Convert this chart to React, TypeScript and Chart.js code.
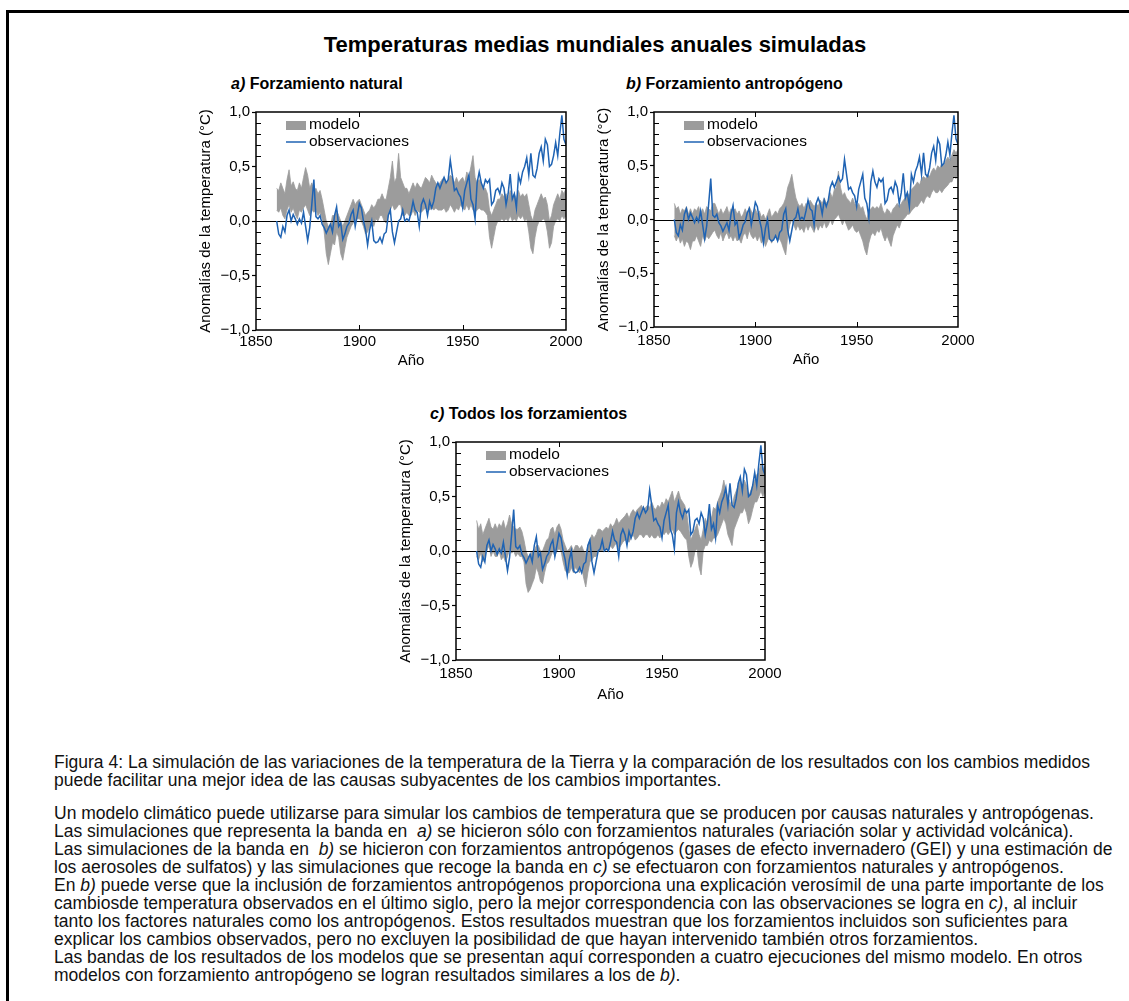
import React, { useEffect, useRef } from 'react';
import { Chart, registerables } from 'chart.js';

Chart.register(...registerables);

const FONT = "'Liberation Sans', Arial, Helvetica, sans-serif";
Chart.defaults.font.family = FONT;
Chart.defaults.color = '#000';

// ---- data (annual values, 1860–2000, °C anomalies) ----
const START_YEAR = 1860;

const OBSERVACIONES = [
  0.0, -0.12, -0.15, -0.05, -0.1, 0.05, 0.1, 0.0, 0.06, 0.02,
  -0.03, 0.02, -0.02, 0.08, -0.05, -0.18, -0.06, 0.15, 0.38, 0.04,
  0.02, 0.05, -0.03, -0.06, -0.11, -0.07, -0.03, -0.1, 0.05, 0.13,
  -0.05, -0.02, -0.17, -0.12, -0.05, -0.02, 0.06, 0.1, -0.05, 0.05,
  0.16, 0.12, 0.0, -0.08, -0.22, -0.08, 0.0, -0.18, -0.2, -0.19,
  -0.15, -0.2, -0.12, -0.1, 0.05, 0.1, -0.1, -0.2, -0.1, 0.0,
  0.02, 0.1, 0.0, 0.02, 0.0, 0.08, 0.18, 0.1, 0.08, -0.05,
  0.15, 0.2, 0.15, 0.05, 0.18, 0.12, 0.18, 0.3, 0.35, 0.3,
  0.35, 0.4, 0.35, 0.38, 0.56, 0.42, 0.28, 0.3, 0.25, 0.22,
  0.12, 0.28, 0.35, 0.42, 0.2, 0.15, 0.02, 0.35, 0.45, 0.35,
  0.3, 0.38, 0.35, 0.38, 0.15, 0.18, 0.28, 0.3, 0.25, 0.35,
  0.3, 0.15, 0.25, 0.43, 0.2, 0.25, 0.12, 0.42, 0.35, 0.45,
  0.5, 0.58, 0.42, 0.62, 0.42, 0.4, 0.48, 0.62, 0.68, 0.55,
  0.75, 0.7, 0.5, 0.52, 0.6, 0.72, 0.6, 0.8, 0.97, 0.75,
  0.7,
];

// a) natural forcing: model band
const NATURAL_MIN = [
  0.1, 0.08, 0.12, 0.05, 0.02, 0.1, 0.15, 0.08, 0.12, 0.06,
  0.02, 0.1, 0.08, 0.12, 0.15, 0.1, 0.05, 0.1, 0.08, 0.1,
  0.05, 0.08, 0.02, -0.1, -0.3, -0.4, -0.3, -0.2, -0.22, -0.1,
  -0.15, -0.3, -0.36, -0.25, -0.15, -0.1, -0.05, -0.02, 0.0, 0.02,
  0.02, 0.0, -0.05, -0.12, -0.1, -0.05, 0.0, -0.05, 0.02, 0.0,
  0.05, 0.05, 0.0, -0.02, 0.05, 0.1, 0.15, 0.1, 0.12, 0.15,
  0.15, 0.05, 0.05, 0.08, 0.05, 0.05, 0.1, 0.05, 0.1, 0.08,
  0.08, 0.1, 0.12, 0.1, 0.1, 0.12, 0.1, 0.12, 0.1, 0.1,
  0.1, 0.12, 0.08, 0.1, 0.15, 0.12, 0.08, 0.12, 0.1, 0.15,
  0.12, 0.1, 0.15, 0.1, 0.15, 0.1, 0.08, 0.1, 0.12, 0.1,
  0.1, 0.08, 0.05, -0.15, -0.25, -0.15, -0.05, 0.0, 0.0, 0.02,
  0.0, 0.02, 0.0, 0.05, 0.0, 0.02, 0.0, 0.05, 0.02, 0.05,
  0.0, 0.02, -0.1, -0.25, -0.3, -0.15, -0.05, 0.0, 0.0, 0.02,
  0.0, -0.1, -0.25, -0.2, -0.05, 0.0, 0.02, 0.0, 0.05, 0.02,
  0.05,
];
const NATURAL_MAX = [
  0.3, 0.28, 0.35, 0.3, 0.25, 0.38, 0.47, 0.32, 0.36, 0.3,
  0.28, 0.35, 0.3, 0.4, 0.49, 0.42, 0.3, 0.35, 0.28, 0.3,
  0.25, 0.28, 0.2, 0.1, 0.0, -0.05, -0.05, 0.05, 0.05, 0.1,
  0.05, 0.0, -0.05, 0.0, 0.05, 0.1, 0.15, 0.2, 0.15, 0.18,
  0.2, 0.15, 0.1, 0.05, 0.08, 0.1, 0.15, 0.12, 0.15, 0.2,
  0.2, 0.25, 0.2, 0.2, 0.3, 0.4, 0.55, 0.35, 0.4, 0.62,
  0.4, 0.35, 0.3, 0.3, 0.25, 0.3, 0.35, 0.3, 0.35, 0.32,
  0.3, 0.35, 0.4, 0.38, 0.35, 0.42, 0.38, 0.35, 0.32, 0.35,
  0.38, 0.4, 0.35, 0.38, 0.42, 0.4, 0.35, 0.4, 0.35, 0.38,
  0.4, 0.35, 0.45, 0.4, 0.5, 0.6, 0.4, 0.35, 0.38, 0.35,
  0.3, 0.3, 0.25, 0.1, 0.05, 0.1, 0.15, 0.2, 0.2, 0.25,
  0.22, 0.25, 0.2, 0.28, 0.22, 0.25, 0.2, 0.28, 0.22, 0.25,
  0.22, 0.25, 0.15, 0.05, 0.0, 0.1, 0.15, 0.2, 0.25, 0.2,
  0.22, 0.15, 0.0, 0.05, 0.15, 0.2, 0.25, 0.2, 0.28, 0.25,
  0.3,
];

// b) anthropogenic forcing: model band
const ANTROPOGENO_MIN = [
  -0.15, -0.2, -0.15, -0.22, -0.18, -0.25, -0.2, -0.22, -0.28, -0.2,
  -0.2, -0.15, -0.2, -0.25, -0.15, -0.2, -0.15, -0.18, -0.15, -0.12,
  -0.1, -0.15, -0.18, -0.12, -0.2, -0.15, -0.12, -0.18, -0.15, -0.2,
  -0.15, -0.2, -0.18, -0.22, -0.15, -0.12, -0.18, -0.1, -0.15, -0.18,
  -0.15, -0.2, -0.15, -0.22, -0.18, -0.25, -0.2, -0.15, -0.22, -0.18,
  -0.15, -0.2, -0.18, -0.22, -0.28, -0.33, -0.15, -0.05, 0.0, -0.05,
  -0.1, -0.05, -0.1, -0.08, -0.12, -0.05, -0.1, -0.05, -0.08, -0.12,
  -0.05, -0.1, -0.05, -0.08, -0.02, -0.08, -0.05, 0.0, -0.05, 0.0,
  0.02, 0.05, 0.0, -0.05, 0.0, -0.05, -0.1, -0.08, -0.05, -0.1,
  -0.12, -0.1, -0.15, -0.2, -0.28, -0.33, -0.22, -0.15, -0.12, -0.15,
  -0.1, -0.12, -0.08, -0.15, -0.2, -0.15, -0.2, -0.25, -0.15, -0.1,
  -0.05, -0.08, -0.02, 0.0, 0.02, 0.05, 0.05, 0.08, 0.1, 0.12,
  0.12, 0.15, 0.18, 0.15, 0.2, 0.22, 0.2, 0.25, 0.28, 0.25,
  0.25, 0.28, 0.25, 0.28, 0.3, 0.32, 0.35, 0.35, 0.4, 0.38,
  0.42,
];
const ANTROPOGENO_MAX = [
  0.15, 0.1, 0.12, 0.05, 0.1, 0.08, 0.12, 0.05, 0.1, 0.05,
  0.1, 0.08, 0.12, 0.05, 0.1, 0.05, 0.12, 0.1, 0.08, 0.15,
  0.15, 0.1, 0.05, 0.1, 0.05, 0.08, 0.12, 0.05, 0.1, 0.08,
  0.1, 0.05, 0.08, 0.02, 0.05, 0.1, 0.05, 0.12, 0.08, 0.05,
  0.1, 0.05, 0.08, 0.02, 0.05, 0.0, 0.05, 0.1, 0.02, 0.05,
  0.08, 0.05, 0.1, 0.12, 0.15, 0.2, 0.3, 0.35, 0.42, 0.3,
  0.2, 0.15, 0.12, 0.15, 0.1, 0.15, 0.12, 0.18, 0.15, 0.12,
  0.15, 0.12, 0.18, 0.15, 0.2, 0.15, 0.18, 0.25, 0.2, 0.28,
  0.3, 0.45, 0.3, 0.22, 0.25, 0.2, 0.18, 0.15, 0.2, 0.15,
  0.12, 0.15, 0.1, 0.12, 0.05, 0.0, 0.08, 0.1, 0.12, 0.1,
  0.12, 0.1, 0.15, 0.08, 0.05, 0.1, 0.08, 0.05, 0.1, 0.12,
  0.15, 0.12, 0.15, 0.18, 0.2, 0.25, 0.22, 0.28, 0.3, 0.32,
  0.35, 0.32, 0.38, 0.4, 0.38, 0.42, 0.4, 0.45, 0.48, 0.45,
  0.5, 0.48, 0.52, 0.5, 0.55, 0.58, 0.55, 0.6, 0.65, 0.62,
  0.65,
];

// c) all forcings: model band
const TODOS_MIN = [
  -0.05, -0.08, -0.02, -0.1, -0.05, 0.0, 0.05, -0.05, 0.0, -0.05,
  -0.05, 0.0, -0.08, -0.05, -0.1, -0.05, 0.02, -0.02, 0.0, -0.05,
  -0.02, -0.05, -0.05, -0.1, -0.3, -0.38, -0.35, -0.3, -0.25, -0.15,
  -0.2, -0.28, -0.3, -0.2, -0.12, -0.1, -0.05, 0.0, -0.05, 0.0,
  0.02, 0.0, -0.1, -0.18, -0.2, -0.2, -0.15, -0.2, -0.15, -0.18,
  -0.2, -0.15, -0.25, -0.33, -0.2, -0.1, -0.08, -0.05, -0.05, 0.0,
  0.0, 0.0, 0.02, 0.02, 0.0, 0.05, 0.02, 0.05, 0.08, 0.02,
  0.05, 0.08, 0.1, 0.1, 0.08, 0.12, 0.15, 0.1, 0.12, 0.15,
  0.15, 0.12, 0.15, 0.15, 0.12, 0.15, 0.12, 0.12, 0.15, 0.12,
  0.18, 0.15, 0.18, 0.15, 0.18, 0.2, 0.15, 0.18, 0.2, 0.18,
  0.15, 0.12, 0.1, -0.05, -0.15, -0.1, 0.0, 0.02, -0.15, -0.22,
  0.0, 0.05, 0.05, 0.1, 0.08, 0.12, 0.12, 0.15, 0.2, 0.25,
  0.3, 0.25, 0.15, 0.1, 0.05, 0.2, 0.25, 0.3, 0.35, 0.35,
  0.4, 0.35, 0.25, 0.3, 0.38, 0.45, 0.45, 0.5, 0.55, 0.5,
  0.55,
];
const TODOS_MAX = [
  0.28, 0.2, 0.25, 0.15, 0.2, 0.25, 0.3, 0.22, 0.2, 0.25,
  0.2, 0.25, 0.22, 0.28, 0.2, 0.25, 0.33, 0.25, 0.22, 0.2,
  0.2, 0.22, 0.18, 0.1, 0.0, -0.05, -0.05, 0.0, 0.0, 0.05,
  0.05, 0.0, 0.0, 0.05, 0.1, 0.12, 0.2, 0.22, 0.15, 0.22,
  0.25, 0.2, 0.1, 0.05, 0.0, 0.02, 0.05, 0.0, 0.05, 0.05,
  0.02, 0.05, 0.0, -0.02, 0.05, 0.1, 0.15, 0.12, 0.15, 0.2,
  0.2, 0.18, 0.2, 0.22, 0.2, 0.25, 0.22, 0.25, 0.3, 0.25,
  0.28, 0.3, 0.32, 0.35, 0.3, 0.35, 0.38, 0.35, 0.38, 0.4,
  0.42, 0.38, 0.4, 0.42, 0.4, 0.45, 0.4, 0.38, 0.42, 0.4,
  0.45, 0.42, 0.48, 0.45, 0.5, 0.55, 0.45, 0.5, 0.55, 0.48,
  0.45, 0.42, 0.35, 0.2, 0.1, 0.15, 0.2, 0.25, 0.15, 0.1,
  0.2, 0.3, 0.25, 0.35, 0.3, 0.4, 0.38, 0.45, 0.5, 0.55,
  0.65, 0.55, 0.5, 0.45, 0.4, 0.5, 0.55, 0.6, 0.65, 0.6,
  0.65, 0.6, 0.5, 0.55, 0.6, 0.65, 0.7, 0.72, 0.8, 0.75,
  0.78,
];

const X_TICKS = [1850, 1900, 1950, 2000];
const Y_TICKS = [-1, -0.5, 0, 0.5, 1];
const LEGEND_LABELS = ['modelo', 'observaciones'];
const X_TITLE = 'Año';
const Y_TITLE = 'Anomalías de la temperatura (°C)';

const YEARS = OBSERVACIONES.map((_, i) => START_YEAR + i);

// ---- styling ----
const BAND_COLOR = '#9c9c9c';
const LINE_COLOR = '#1f63b3';
const AXIS_W = 70;
const AXIS_H = 45;
const PAD_T = 12;
const PAD_R = 22;

type Box = { left: number; top: number; right: number; bottom: number };
type PanelSpec = {
  id: string;
  letter: string;
  heading: string;
  lower: number[];
  upper: number[];
  plot: Box;
  tickPad: number;
  titlePad: number;
  headX: number;
  headY: number;
};

const PANELS: PanelSpec[] = [
  { id: 'a', letter: 'a)', heading: 'Forzamiento natural', lower: NATURAL_MIN, upper: NATURAL_MAX,
    plot: { left: 256, top: 112, right: 566, bottom: 330 }, tickPad: 3, titlePad: 5, headX: 231, headY: 84 },
  { id: 'b', letter: 'b)', heading: 'Forzamiento antropógeno', lower: ANTROPOGENO_MIN, upper: ANTROPOGENO_MAX,
    plot: { left: 654, top: 112, right: 958, bottom: 327 }, tickPad: 5, titlePad: 3, headX: 626, headY: 84 },
  { id: 'c', letter: 'c)', heading: 'Todos los forzamientos', lower: TODOS_MIN, upper: TODOS_MAX,
    plot: { left: 456, top: 442, right: 765, bottom: 660 }, tickPad: 5, titlePad: 1, headX: 430, headY: 414 },
];

const fmtY = (v: number) => (v < 0 ? '\u2212' : '') + Math.abs(v).toFixed(1).replace('.', ',');

// frame, inner ticks, zero line and legend
const panelDecor = {
  id: 'panelDecor',
  afterDatasetDraw(chart: any, args: any) {
    if (args.index !== 1) return;
    const { ctx, chartArea: a, scales } = chart;
    const y0 = Math.round(scales.y.getPixelForValue(0)) + 0.5;
    ctx.save();
    ctx.strokeStyle = '#000';
    ctx.lineWidth = 1.2;
    ctx.beginPath();
    ctx.moveTo(a.left, y0);
    ctx.lineTo(a.right, y0);
    ctx.stroke();
    ctx.restore();
  },
  afterDraw(chart: any) {
    const { ctx, chartArea: a, scales } = chart;
    const { x, y } = scales;
    ctx.save();
    ctx.strokeStyle = '#000';
    ctx.lineWidth = 1;
    ctx.beginPath();
    for (let k = -9; k <= 9; k++) {
      const py = Math.round(y.getPixelForValue(k / 10)) + 0.5;
      if (k % 5 !== 0) {
        ctx.moveTo(a.left, py);
        ctx.lineTo(a.left + 5, py);
      }
      ctx.moveTo(a.right - 5, py);
      ctx.lineTo(a.right, py);
    }
    X_TICKS.slice(1, -1).forEach((yr) => {
      const px = Math.round(x.getPixelForValue(yr)) + 0.5;
      ctx.moveTo(px, a.bottom);
      ctx.lineTo(px, a.bottom - 5);
      ctx.moveTo(px, a.top);
      ctx.lineTo(px, a.top + 5);
    });
    ctx.stroke();
    ctx.lineWidth = 1.5;
    ctx.strokeRect(a.left, a.top, a.right - a.left, a.bottom - a.top);

    // legend
    const lx = a.left + 30;
    ctx.fillStyle = BAND_COLOR;
    ctx.fillRect(lx, a.top + 9, 20, 9);
    ctx.strokeStyle = LINE_COLOR;
    ctx.lineWidth = 1.5;
    ctx.beginPath();
    ctx.moveTo(lx, a.top + 30);
    ctx.lineTo(lx + 20, a.top + 30);
    ctx.stroke();
    ctx.fillStyle = '#000';
    ctx.font = `15.5px ${FONT}`;
    ctx.textBaseline = 'middle';
    ctx.textAlign = 'left';
    ctx.fillText(LEGEND_LABELS[0], lx + 23, a.top + 13);
    ctx.fillText(LEGEND_LABELS[1], lx + 23, a.top + 29.5);
    ctx.restore();
  },
};

function buildConfig(p: PanelSpec): any {
  const pts = (arr: number[]) => arr.map((v, i) => ({ x: YEARS[i], y: v }));
  return {
    type: 'line',
    data: {
      datasets: [
        { label: 'min', data: pts(p.lower), borderColor: BAND_COLOR, borderWidth: 0.8, backgroundColor: BAND_COLOR,
          pointRadius: 0, fill: false, tension: 0, order: 3 },
        { label: LEGEND_LABELS[0], data: pts(p.upper), borderColor: BAND_COLOR, borderWidth: 0.8, backgroundColor: BAND_COLOR,
          pointRadius: 0, fill: '-1', tension: 0, order: 2 },
        { label: LEGEND_LABELS[1], data: pts(OBSERVACIONES), borderColor: LINE_COLOR, borderWidth: 1.5,
          pointRadius: 0, fill: false, tension: 0, order: 1 },
      ],
    },
    options: {
      responsive: false,
      animation: false,
      events: [],
      layout: { padding: { top: PAD_T, right: PAD_R, bottom: 0, left: 0 } },
      plugins: { legend: { display: false }, tooltip: { enabled: false } },
      scales: {
        x: {
          type: 'linear',
          min: X_TICKS[0],
          max: X_TICKS[X_TICKS.length - 1],
          afterBuildTicks: (s: any) => { s.ticks = X_TICKS.map((v) => ({ value: v })); },
          afterFit: (s: any) => { s.height = AXIS_H; },
          ticks: { callback: (v: number) => String(v), padding: p.tickPad, maxRotation: 0, autoSkip: false,
            color: '#000', font: { size: 15, family: FONT } },
          grid: { display: false, drawTicks: false, tickLength: 0 },
          border: { display: false },
          title: { display: true, text: X_TITLE, color: '#000', font: { size: 15, family: FONT },
            padding: { top: 0, bottom: p.titlePad } },
        },
        y: {
          type: 'linear',
          min: Y_TICKS[0],
          max: Y_TICKS[Y_TICKS.length - 1],
          afterBuildTicks: (s: any) => { s.ticks = Y_TICKS.map((v) => ({ value: v })); },
          afterFit: (s: any) => { s.width = AXIS_W; },
          ticks: { callback: (v: number) => fmtY(v), padding: 2, color: '#000', font: { size: 15, family: FONT } },
          grid: { drawOnChartArea: false, drawTicks: true, tickLength: 4, tickColor: '#000', tickWidth: 1.2 },
          border: { display: false },
          title: { display: true, text: Y_TITLE, color: '#000', font: { size: 15, family: FONT },
            padding: { top: 11, bottom: 0 } },
        },
      },
    },
    plugins: [panelDecor],
  };
}

function Panel({ p }: { p: PanelSpec }) {
  const ref = useRef<HTMLCanvasElement>(null);
  useEffect(() => {
    const chart = new Chart(ref.current as HTMLCanvasElement, buildConfig(p));
    return () => chart.destroy();
  }, [p]);
  const w = p.plot.right - p.plot.left + AXIS_W + PAD_R;
  const h = p.plot.bottom - p.plot.top + PAD_T + AXIS_H;
  return (
    <>
      <div style={{ position: 'absolute', left: p.headX, top: p.headY - 10, lineHeight: '20px',
        fontSize: 16, fontWeight: 'bold', whiteSpace: 'pre' }}>
        <i>{p.letter}</i>{' ' + p.heading}
      </div>
      <canvas ref={ref} width={w} height={h}
        style={{ position: 'absolute', left: p.plot.left - AXIS_W, top: p.plot.top - PAD_T, width: w, height: h }} />
    </>
  );
}

const lineStyle = (top: number): React.CSSProperties => ({
  position: 'absolute', left: 54, top, lineHeight: '18px', fontSize: 17.5, whiteSpace: 'pre', color: '#111',
});

export default function App() {
  return (
    <div style={{ position: 'absolute', left: 0, top: 0, width: 1129, height: 1001, overflow: 'hidden',
      background: '#fff', fontFamily: FONT, color: '#000' }}>
      <div style={{ position: 'absolute', left: 6, top: 10, width: 1200, height: 1100,
        borderTop: '3px solid #000', borderLeft: '3px solid #000' }} />
      <div style={{ position: 'absolute', left: 0, top: 32, width: 1190, textAlign: 'center',
        fontSize: 22, fontWeight: 'bold', lineHeight: '26px' }}>
        Temperaturas medias mundiales anuales simuladas
      </div>
      {PANELS.map((p) => <Panel key={p.id} p={p} />)}

      <div style={lineStyle(753)}>Figura 4: La simulación de las variaciones de la temperatura de la Tierra y la comparación de los resultados con los cambios medidos</div>
      <div style={lineStyle(771)}>puede facilitar una mejor idea de las causas subyacentes de los cambios importantes.</div>

      <div style={lineStyle(804)}>Un modelo climático puede utilizarse para simular los cambios de temperatura que se producen por causas naturales y antropógenas.</div>
      <div style={lineStyle(822)}>Las simulaciones que representa la banda en  <i>a)</i> se hicieron sólo con forzamientos naturales (variación solar y actividad volcánica).</div>
      <div style={lineStyle(840)}>Las simulaciones de la banda en  <i>b)</i> se hicieron con forzamientos antropógenos (gases de efecto invernadero (GEI) y una estimación de</div>
      <div style={lineStyle(858)}>los aerosoles de sulfatos) y las simulaciones que recoge la banda en <i>c)</i> se efectuaron con forzamientos naturales y antropógenos.</div>
      <div style={lineStyle(876)}>En <i>b)</i> puede verse que la inclusión de forzamientos antropógenos proporciona una explicación verosímil de una parte importante de los</div>
      <div style={lineStyle(894)}>cambiosde temperatura observados en el último siglo, pero la mejor correspondencia con las observaciones se logra en <i>c)</i>, al incluir</div>
      <div style={lineStyle(912)}>tanto los factores naturales como los antropógenos. Estos resultados muestran que los forzamientos incluidos son suficientes para</div>
      <div style={lineStyle(930)}>explicar los cambios observados, pero no excluyen la posibilidad de que hayan intervenido también otros forzamientos.</div>
      <div style={lineStyle(948)}>Las bandas de los resultados de los modelos que se presentan aquí corresponden a cuatro ejecuciones del mismo modelo. En otros</div>
      <div style={lineStyle(966)}>modelos con forzamiento antropógeno se logran resultados similares a los de <i>b)</i>.</div>
    </div>
  );
}
